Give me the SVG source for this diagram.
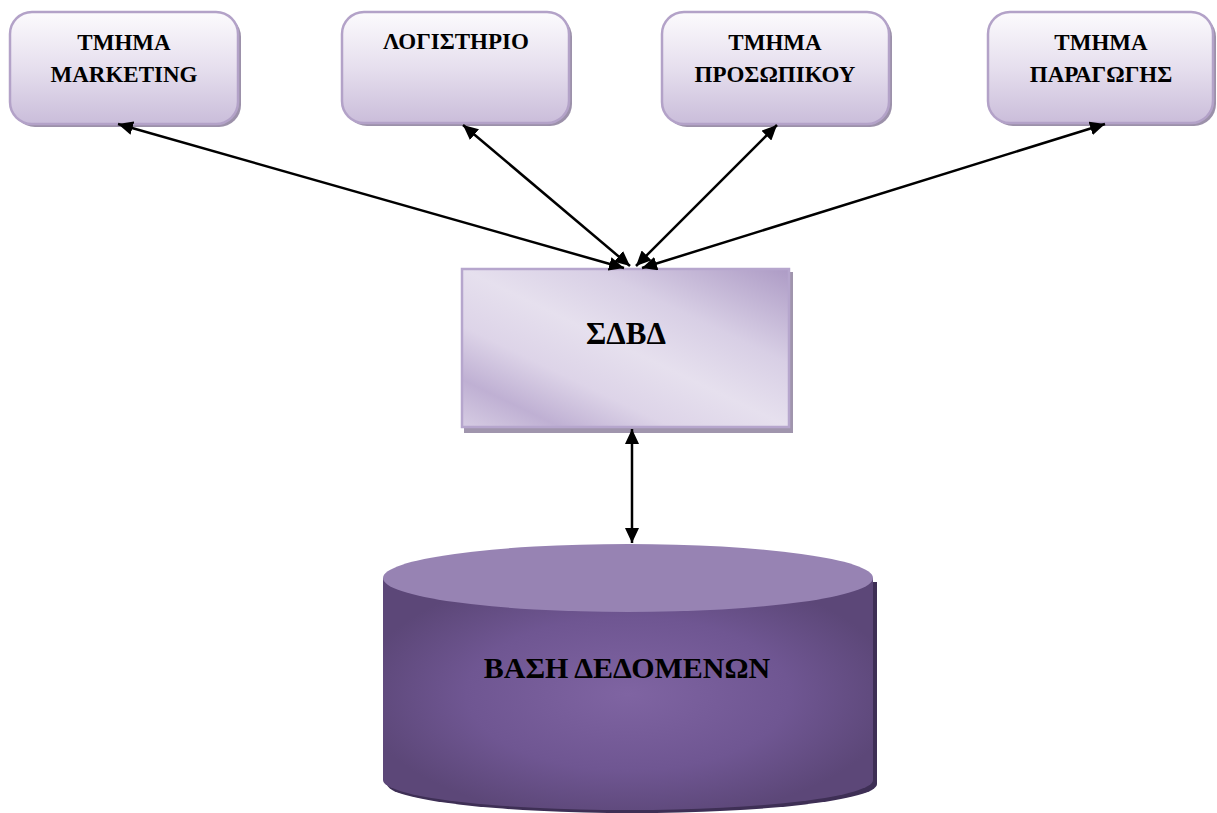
<svg xmlns="http://www.w3.org/2000/svg" width="1217" height="813" viewBox="0 0 1217 813">
<defs>
<linearGradient id="boxGrad" x1="0" y1="0" x2="0" y2="1">
<stop offset="0" stop-color="#fcfbfd"/>
<stop offset="0.5" stop-color="#e6dfee"/>
<stop offset="1" stop-color="#cabdda"/>
</linearGradient>
<linearGradient id="dbmsGrad" x1="1" y1="0" x2="0" y2="1">
<stop offset="0" stop-color="#ad9bc5"/>
<stop offset="0.3" stop-color="#d8cfe5"/>
<stop offset="0.5" stop-color="#e6e0ee"/>
<stop offset="0.68" stop-color="#ddd4e8"/>
<stop offset="0.85" stop-color="#bfb0d3"/>
<stop offset="1" stop-color="#d6cce3"/>
</linearGradient>
<radialGradient id="cylGrad" cx="0.5" cy="0.5" r="0.55">
<stop offset="0" stop-color="#7f64a2"/>
<stop offset="0.6" stop-color="#6f5692"/>
<stop offset="1" stop-color="#5c4778"/>
</radialGradient>
<marker id="ah" markerUnits="userSpaceOnUse" markerWidth="16" markerHeight="14" refX="15" refY="7" orient="auto-start-reverse">
<path d="M0,0 L15,7 L0,14 Z" fill="#000"/>
</marker>
<style>
.box{fill:url(#boxGrad);stroke:#b3a2c8;stroke-width:2.5}
.shadow{fill:#9c91aa}
.lbl{font-family:"Liberation Serif","Times New Roman",serif;font-weight:bold;font-size:23px;fill:#000;text-anchor:middle}
.conn{stroke:#000;stroke-width:2.5;fill:none;marker-start:url(#ah);marker-end:url(#ah)}
</style>
</defs>

<g id="node-marketing">
<rect class="shadow" x="13" y="15" width="228" height="112" rx="22"/>
<rect class="box" x="10" y="12" width="228" height="112" rx="22"/>
<text class="lbl" x="124" y="50">ΤΜΗΜΑ</text>
<text class="lbl" x="124" y="82">MARKETING</text>
</g>

<g id="node-logistirio">
<rect class="shadow" x="345" y="15" width="227" height="111" rx="22"/>
<rect class="box" x="342" y="12" width="227" height="111" rx="22"/>
<text class="lbl" x="456" y="49">ΛΟΓΙΣΤΗΡΙΟ</text>
</g>

<g id="node-prosopiko">
<rect class="shadow" x="665" y="15" width="227" height="112" rx="22"/>
<rect class="box" x="662" y="12" width="227" height="112" rx="22"/>
<text class="lbl" x="775" y="50">ΤΜΗΜΑ</text>
<text class="lbl" x="775" y="82">ΠΡΟΣΩΠΙΚΟΥ</text>
</g>

<g id="node-paragogi">
<rect class="shadow" x="991" y="15" width="225" height="111" rx="22"/>
<rect class="box" x="988" y="12" width="225" height="111" rx="22"/>
<text class="lbl" x="1101" y="50">ΤΜΗΜΑ</text>
<text class="lbl" x="1101" y="82">ΠΑΡΑΓΩΓΗΣ</text>
</g>

<g id="node-sdbd">
<rect x="464" y="272" width="329" height="161" fill="#a095ad"/>
<rect x="462" y="269" width="327" height="158" fill="url(#dbmsGrad)" stroke="#b6a6cd" stroke-width="2.5"/>
<text x="626" y="344" font-family="'Liberation Serif','Times New Roman',serif" font-weight="bold" font-size="31" text-anchor="middle" fill="#000">ΣΔΒΔ</text>
</g>

<g id="node-database">
<path d="M387,582 L877,582 L877,784 A245,29 0 0 1 387,784 Z" fill="#3e2f55"/>
<path d="M383,578 L873,578 L873,780 A245,30 0 0 1 383,780 Z" fill="url(#cylGrad)"/>
<ellipse cx="628" cy="578" rx="245" ry="34" fill="#9783b3"/>
<text x="627" y="678" font-family="'Liberation Serif','Times New Roman',serif" font-weight="bold" font-size="30" text-anchor="middle" fill="#000">ΒΑΣΗ ΔΕΔΟΜΕΝΩΝ</text>
</g>

<g id="connectors">
<line class="conn" x1="624" y1="268" x2="118" y2="124"/>
<line class="conn" x1="630" y1="266" x2="463" y2="125"/>
<line class="conn" x1="636" y1="266" x2="777" y2="125"/>
<line class="conn" x1="642" y1="268" x2="1105" y2="124"/>
<line class="conn" x1="632" y1="429" x2="632" y2="543"/>
</g>
</svg>
